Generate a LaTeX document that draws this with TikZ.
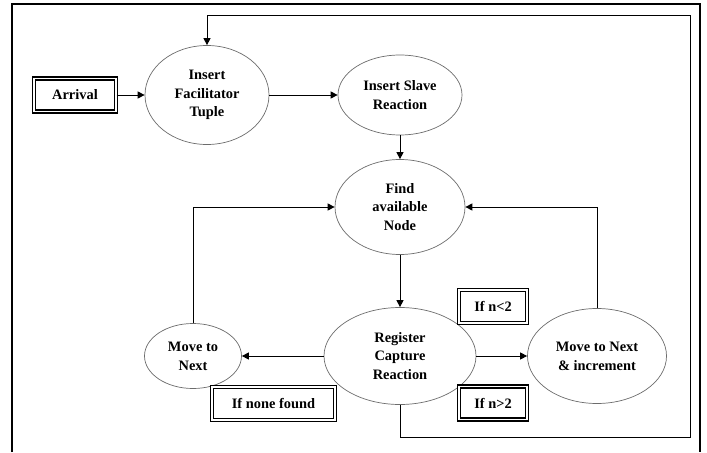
\documentclass[tikz,border=0pt]{standalone}
\usepackage{fontspec}
\setmainfont{Liberation Serif}
\usepackage{tikz}
\usetikzlibrary{shapes.geometric,arrows.meta,positioning}

\begin{document}
\begin{tikzpicture}[x=0.03cm,y=-0.03cm,font=\fontsize{12.3}{16}\selectfont\bfseries,
  etat/.style={ellipse,draw=gray!85!black,line width=0.6pt,inner sep=0pt,align=center},
  cadre/.style={rectangle,draw=black,line width=1.1pt,double=white,double distance=1.3pt,
                inner sep=0pt,minimum height=0.99cm},
  fleche/.style={-{Triangle[length=6pt,width=6pt]},line width=0.8pt}]
  \useasboundingbox (0,0) rectangle (707,452);
  % outer frame
  \draw[line width=2.5pt] (12,452) -- (12,4) -- (700,4) -- (700,452);

  \node[cadre,minimum width=2.46cm] (Arr) at (75,95) {Arrival};
  \node[etat,minimum width=3.72cm,minimum height=2.97cm] (Fac) at (207,95)
    {Insert\\Facilitator\\Tuple};
  \node[etat,minimum width=3.72cm,minimum height=2.4cm] (Slv) at (400,95)
    {Insert Slave\\Reaction};
  \node[etat,minimum width=3.9cm,minimum height=2.85cm] (Find) at (400,207)
    {Find\\available\\Node};
  \node[etat,minimum width=4.56cm,minimum height=2.91cm] (Reg) at (400,356)
    {Register\\Capture\\Reaction};
  \node[etat,minimum width=2.91cm,minimum height=1.95cm] (Mv) at (193,356)
    {Move to\\Next};
  \node[etat,minimum width=4.17cm,minimum height=2.85cm] (MvI) at (597,356)
    {Move to Next\\\& increment};

  \node[cadre,minimum width=2.04cm] (Lt) at (493,306.5) {If n<2};
  \node[cadre,minimum width=2.04cm] (Gt) at (493,403) {If n>2};
  \node[cadre,minimum width=3.69cm] (None) at (273.5,403.5) {If none found};

  \coordinate (fbR) at (690,437);
  \coordinate (fbT) at (690,15);

  \draw[fleche] (Arr.east) -- (Fac.west);
  \draw[fleche] (Fac.east) -- (Slv.west);
  \draw[fleche] (Slv.south) -- (Find.north);
  \draw[fleche] (Find.south) -- (Reg.north);
  \draw[fleche] (Reg.west) -- (Mv.east);
  \draw[fleche] (Reg.east) -- (MvI.west);
  \draw[fleche] (Mv.north) |- (Find.west);
  \draw[fleche] (MvI.north) |- (Find.east);
  \draw[fleche] (Reg.south) |- (fbR) -- (fbT) -| (Fac.north);
\end{tikzpicture}
\end{document}
